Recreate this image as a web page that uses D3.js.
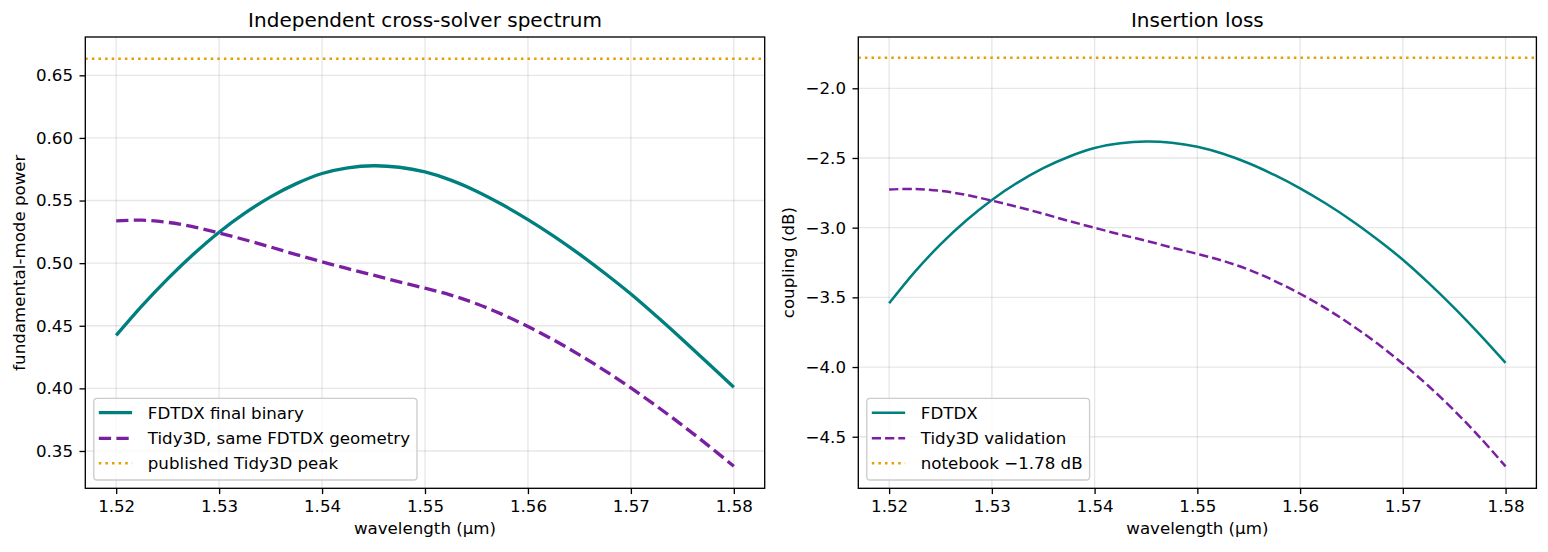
<!DOCTYPE html>
<html>
<head>
<meta charset="utf-8">
<script src="https://cdn.jsdelivr.net/npm/d3@7"></script>
<style>
  body { margin: 0; background: #ffffff; }
  svg text { font-family: "DejaVu Sans", sans-serif; fill: #000000; }
</style>
</head>
<body>
<svg id="chart" width="1548" height="552"></svg>
<script>
// values
const wavelength = [1.52, 1.5225, 1.525, 1.5275, 1.53, 1.5325, 1.535, 1.5375, 1.54, 1.5425, 1.545, 1.5475,
  1.55, 1.5525, 1.555, 1.5575, 1.56, 1.5625, 1.565, 1.5675, 1.57, 1.5725, 1.575, 1.5775, 1.58]

const fdtdxPower = [0.4423, 0.4659, 0.4875, 0.5071, 0.5247, 0.5399, 0.5529, 0.5635, 0.5716, 0.5761, 0.5778, 0.5766,
  0.5728, 0.5663, 0.5575, 0.5468, 0.5348, 0.5216, 0.5072, 0.4917, 0.4753, 0.4575, 0.4390, 0.4201, 0.4009]

const tidyPower = [0.5338, 0.5343, 0.5326, 0.5290, 0.5241, 0.5187, 0.5129, 0.5068, 0.5011, 0.4956, 0.4904, 0.4851,
  0.4800, 0.4745, 0.4676, 0.4591, 0.4494, 0.4386, 0.4268, 0.4140, 0.4003, 0.3858, 0.3705, 0.3545, 0.3378]

const publishedPeak = 0.6633

const fdtdxDb = [-3.543, -3.317, -3.120, -2.949, -2.801, -2.677, -2.573, -2.491, -2.429, -2.395, -2.382, -2.391,
  -2.420, -2.470, -2.538, -2.622, -2.718, -2.827, -2.948, -3.083, -3.230, -3.396, -3.575, -3.767, -3.970]

const tidyDb = [-2.726, -2.722, -2.736, -2.765, -2.806, -2.851, -2.900, -2.952, -3.001, -3.049, -3.094, -3.142,
  -3.188, -3.238, -3.301, -3.381, -3.474, -3.579, -3.698, -3.830, -3.976, -4.136, -4.312, -4.504, -4.713]

const notebookDb = -1.78

const xTicks = [1.52, 1.53, 1.54, 1.55, 1.56, 1.57, 1.58]
const powerTicks = [0.35, 0.40, 0.45, 0.50, 0.55, 0.60, 0.65]
const dbTicks = [-4.5, -4.0, -3.5, -3.0, -2.5, -2.0]

const leftLegend = ["FDTDX final binary", "Tidy3D, same FDTDX geometry", "published Tidy3D peak"]
const rightLegend = ["FDTDX", "Tidy3D validation", "notebook \u22121.78 dB"]

let svg = d3.select("#chart")
let plotTop = 37
let plotBottom = 488.3
let fontSize = 16.67
let teal = "#007f7f"
let purple = "#7b1fa2"
let orange = "#e69f00"

function drawPanel(p) {
  let g = svg.append("g")

  let x = d3.scaleLinear()
      .domain([1.517, 1.583])
      .range([p.left, p.right])

  let y = d3.scaleLinear()
      .domain(p.yDomain)
      .range([plotBottom, plotTop])

  // grid
  let grid = g.append("g")
  grid.selectAll(".vgrid")
      .data(xTicks)
      .join("line")
      .attr("class", "vgrid")
      .attr("x1", d => x(d))
      .attr("x2", d => x(d))
      .attr("y1", plotTop)
      .attr("y2", plotBottom)
  grid.selectAll(".hgrid")
      .data(p.yTicks)
      .join("line")
      .attr("class", "hgrid")
      .attr("x1", p.left)
      .attr("x2", p.right)
      .attr("y1", d => y(d))
      .attr("y2", d => y(d))
  grid.selectAll("line")
      .style("stroke", "#b0b0b0")
      .style("stroke-opacity", 0.3)
      .style("stroke-width", 1.33)

  let clipId = "clip" + p.id
  svg.append("clipPath")
      .attr("id", clipId)
      .append("rect")
      .attr("x", p.left)
      .attr("y", plotTop)
      .attr("width", p.right - p.left)
      .attr("height", plotBottom - plotTop)

  let plot = g.append("g").attr("clip-path", `url(#${clipId})`)

  // reference line across the whole axes
  plot.append("line")
      .attr("x1", p.left)
      .attr("x2", p.right)
      .attr("y1", y(p.refValue))
      .attr("y2", y(p.refValue))
      .style("stroke", orange)
      .style("stroke-width", 2.5)
      .style("stroke-dasharray", "2.5,4.1")

  let line = d3.line()
      .x((d, i) => x(wavelength[i]))
      .y(d => y(d))
      .curve(d3.curveCatmullRom)

  plot.selectAll(".series")
      .data(p.series)
      .join("path")
      .attr("class", "series")
      .attr("d", d => line(d.values))
      .style("fill", "none")
      .style("stroke", d => d.color)
      .style("stroke-width", d => d.width)
      .style("stroke-dasharray", d => d.dash)

  // frame
  g.append("rect")
      .attr("x", p.left)
      .attr("y", plotTop)
      .attr("width", p.right - p.left)
      .attr("height", plotBottom - plotTop)
      .style("fill", "none")
      .style("stroke", "#000")
      .style("stroke-width", 1.33)

  g.append("g")
      .attr("transform", `translate(0,${plotBottom})`)
      .call(d3.axisBottom(x).tickValues(xTicks).tickFormat(d3.format(".2f")).tickSize(5.8).tickPadding(5.8))
  g.append("g")
      .attr("transform", `translate(${p.left},0)`)
      .call(d3.axisLeft(y).tickValues(p.yTicks).tickFormat(d3.format(p.yFormat)).tickSize(5.8).tickPadding(6.5))

  g.selectAll(".domain").remove()
  g.selectAll(".tick line").style("stroke", "#000").style("stroke-width", 1.33)
  g.selectAll(".tick text")
      .style("font-size", fontSize + "px")
      .style("font-family", "DejaVu Sans")
      .attr("fill", "#000")

  // titles and labels
  g.append("text")
      .attr("x", (p.left + p.right) / 2)
      .attr("y", 26.7)
      .attr("text-anchor", "middle")
      .style("font-size", "20px")
      .text(p.title)

  g.append("text")
      .attr("x", (p.left + p.right) / 2)
      .attr("y", 534)
      .attr("text-anchor", "middle")
      .style("font-size", fontSize + "px")
      .text("wavelength (\u03bcm)")

  g.append("text")
      .attr("transform", `translate(${p.yLabelX},${(plotTop + plotBottom) / 2}) rotate(-90)`)
      .attr("text-anchor", "middle")
      .style("font-size", fontSize + "px")
      .text(p.yLabel)

  // legend
  let boxX = p.left + 8.5
  let boxBottom = plotBottom - 8.3
  let rows = [412.7, 438.3, 463.3]
  let legend = g.append("g")
  let frame = legend.append("rect")
  let items = p.series.concat([{ color: orange, width: 2.5, dash: "2.5,4.1" }])

  legend.selectAll(".handle")
      .data(items)
      .join("line")
      .attr("class", "handle")
      .attr("x1", boxX + 5)
      .attr("x2", boxX + 38.3)
      .attr("y1", (d, i) => rows[i])
      .attr("y2", (d, i) => rows[i])
      .style("stroke", d => d.color)
      .style("stroke-width", d => d.width)
      .style("stroke-dasharray", d => d.dash)

  let labels = legend.selectAll(".label")
      .data(p.legend)
      .join("text")
      .attr("class", "label")
      .attr("x", boxX + 54)
      .attr("y", (d, i) => rows[i])
      .attr("dy", "0.35em")
      .style("font-size", fontSize + "px")
      .text(d => d)

  let maxLen = d3.max(labels.nodes(), n => n.getComputedTextLength())
  frame.attr("x", boxX)
      .attr("y", 398.3)
      .attr("width", 54 + maxLen + 7)
      .attr("height", boxBottom - 398.3)
      .attr("rx", 3.3)
      .style("fill", "#fff")
      .style("fill-opacity", 0.8)
      .style("stroke", "#cccccc")
      .style("stroke-width", 1.33)
}

drawPanel({
  id: "left",
  left: 85.3,
  right: 764.7,
  yDomain: [0.3202, 0.6806],
  yTicks: powerTicks,
  yFormat: ".2f",
  refValue: publishedPeak,
  title: "Independent cross-solver spectrum",
  yLabel: "fundamental-mode power",
  yLabelX: 24.5,
  legend: leftLegend,
  series: [
    { values: fdtdxPower, color: teal, width: 3.33, dash: null },
    { values: tidyPower, color: purple, width: 3.33, dash: "12.3,5.3" }
  ]
})

drawPanel({
  id: "right",
  left: 858.3,
  right: 1536.4,
  yDomain: [-4.870, -1.632],
  yTicks: dbTicks,
  yFormat: ".1f",
  refValue: notebookDb,
  title: "Insertion loss",
  yLabel: "coupling (dB)",
  yLabelX: 794,
  legend: rightLegend,
  series: [
    { values: fdtdxDb, color: teal, width: 2.5, dash: null },
    { values: tidyDb, color: purple, width: 2.5, dash: "9.25,4" }
  ]
})
</script>
</body>
</html>
